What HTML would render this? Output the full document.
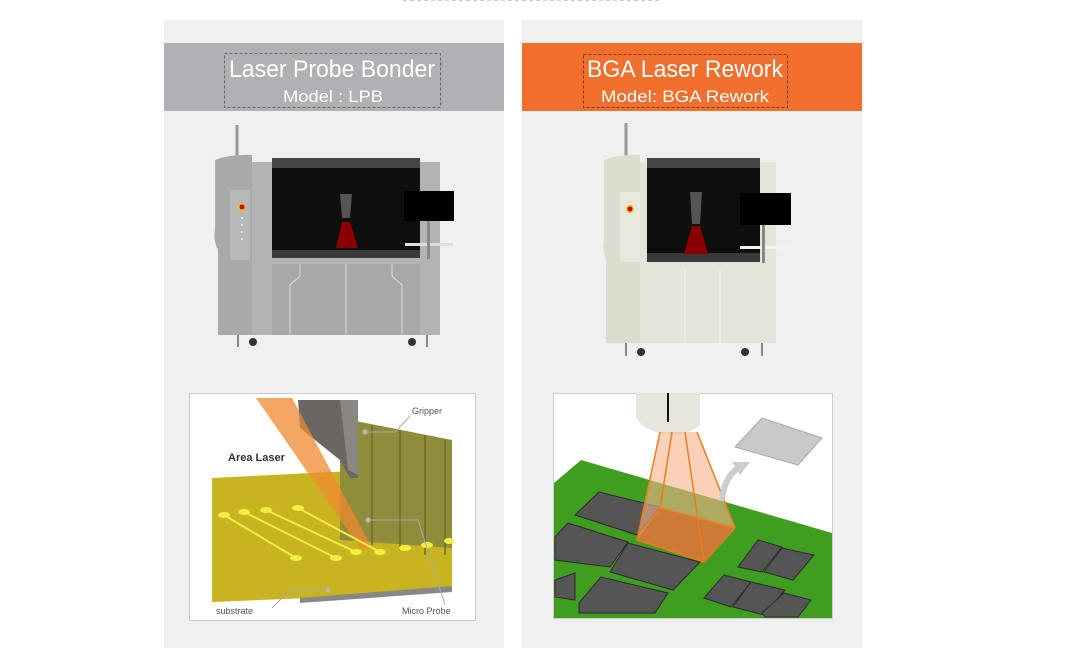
<!DOCTYPE html>
<html><head><meta charset="utf-8"><style>
html,body{margin:0;padding:0;background:#fff;width:1066px;height:661px;overflow:hidden}
svg{display:block}
text{font-family:"Liberation Sans",sans-serif}
</style></head><body>
<svg width="1066" height="661" viewBox="0 0 1066 661" xmlns="http://www.w3.org/2000/svg">
<line x1="403" y1="0.5" x2="660" y2="0.5" stroke="#ccc" stroke-dasharray="4,3"/>
<rect x="164" y="20" width="340" height="628" fill="#f0f0f0"/>
<rect x="522" y="20" width="340" height="628" fill="#f0f0f0"/>
<rect x="164" y="43" width="340" height="68" fill="#b0b1b4"/>
<rect x="522" y="43" width="340" height="68" fill="#f26f2e"/>
<rect x="224.5" y="53.5" width="216" height="54" fill="none" stroke="#666" stroke-dasharray="3,2"/>
<rect x="583.5" y="54.5" width="204" height="53" fill="none" stroke="#7a3a18" stroke-dasharray="3,2"/>
<text x="332" y="77" font-size="24" fill="#fff" text-anchor="middle" textLength="206" lengthAdjust="spacingAndGlyphs">Laser Probe Bonder</text>
<text x="333" y="102" font-size="17" fill="#fff" text-anchor="middle" textLength="100" lengthAdjust="spacingAndGlyphs">Model : LPB</text>
<text x="685" y="77" font-size="24" fill="#fff" text-anchor="middle" textLength="196" lengthAdjust="spacingAndGlyphs">BGA Laser Rework</text>
<text x="685" y="102" font-size="17" fill="#fff" text-anchor="middle" textLength="168" lengthAdjust="spacingAndGlyphs">Model: BGA Rework</text>

<!-- left machine -->
<line x1="237" y1="125" x2="237" y2="157" stroke="#999" stroke-width="3"/>
<rect x="244" y="162" width="196" height="173" fill="#b3b3b3"/>
<path d="M215 160 Q230 154 252 155 L252 335 L218 335 L218 250 Q213 240 215 230Z" fill="#a9a9a9"/>
<rect x="230" y="190" width="20" height="70" fill="#b8b8b8"/>
<circle cx="242" cy="207" r="4" fill="#e6c800"/><circle cx="242" cy="207" r="2.5" fill="#c00"/>
<g fill="#eee"><circle cx="242" cy="218" r="1"/><circle cx="242" cy="225" r="1"/><circle cx="242" cy="232" r="1"/><circle cx="242" cy="239" r="1"/></g>
<rect x="272" y="158" width="148" height="100" fill="#0e0e0e"/>
<rect x="272" y="158" width="148" height="10" fill="#444"/>
<rect x="272" y="250" width="148" height="8" fill="#3a3a3a"/>
<path d="M340 194 L352 194 L350 218 L342 218Z" fill="#555"/>
<path d="M342 222 L350 222 L358 248 L336 248Z" fill="#8a0000"/>
<rect x="272" y="264" width="148" height="71" fill="#a8a8a8"/>
<path d="M300 264 L300 276 L290 285 L290 335 M346 264 L346 335 M392 264 L392 276 L402 285 L402 335" stroke="#ddd" fill="none"/>
<rect x="404" y="191" width="50" height="30" fill="#000"/>
<rect x="405" y="243" width="48" height="3" fill="#ddd"/>
<rect x="427" y="221" width="3" height="38" fill="#888"/>
<g fill="#333"><circle cx="253" cy="342" r="4"/><circle cx="412" cy="342" r="4"/></g>
<g stroke="#888" stroke-width="2"><line x1="238" y1="335" x2="238" y2="347"/><line x1="427" y1="335" x2="427" y2="347"/></g>

<!-- right machine -->
<line x1="626" y1="123" x2="626" y2="157" stroke="#999" stroke-width="3"/>
<rect x="640" y="162" width="136" height="181" fill="#e4e4d8"/>
<path d="M604 160 Q618 154 640 155 L640 343 L606 343 L606 260 Q602 250 604 240Z" fill="#dcdccf"/>
<rect x="620" y="192" width="20" height="70" fill="#e8e8dd"/>
<circle cx="630" cy="209" r="4" fill="#e6c800"/><circle cx="630" cy="209" r="2.5" fill="#c00"/>
<rect x="647" y="158" width="113" height="104" fill="#0e0e0e"/>
<rect x="647" y="158" width="113" height="10" fill="#444"/>
<rect x="647" y="253" width="113" height="9" fill="#3a3a3a"/>
<path d="M690 192 L702 192 L700 224 L692 224Z" fill="#555"/>
<path d="M692 226 L700 226 L708 254 L684 254Z" fill="#8a0000"/>
<path d="M685 270 L685 343 M720 270 L720 343" stroke="#f4f4ec"/>
<rect x="740" y="193" width="51" height="32" fill="#000"/>
<rect x="740" y="246" width="50" height="3" fill="#f4f4ec"/>
<rect x="762" y="225" width="3" height="38" fill="#888"/>
<g fill="#333"><circle cx="641" cy="352" r="4"/><circle cx="745" cy="352" r="4"/></g>
<g stroke="#888" stroke-width="2"><line x1="626" y1="343" x2="626" y2="356"/><line x1="762" y1="343" x2="762" y2="356"/></g>

<!-- left illustration -->
<rect x="189.5" y="393.5" width="286" height="227" fill="#fff" stroke="#ccc"/>
<polygon points="212,478 452,466 452,592 212,602" fill="#c8b420"/>
<polygon points="300,598 452,586 452,592 300,603" fill="#888"/>
<polygon points="340,418 452,440 452,548 340,540" fill="#8f8c3c"/>
<g stroke="#6e6b2a" stroke-width="1.5"><line x1="372" y1="425" x2="372" y2="545"/><line x1="400" y1="430" x2="400" y2="550"/><line x1="425" y1="435" x2="425" y2="555"/><line x1="445" y1="440" x2="445" y2="555"/></g>
<polygon points="298,400 352,400 358,478 350,478 340,460 300,428" fill="#6a6762"/>
<polygon points="340,400 358,400 358,475 348,470" fill="#8a8782"/>
<polygon points="256,398 292,398 372,548 360,548" fill="#f08a30" opacity="0.75"/>
<g fill="#f4ee40"><ellipse cx="224" cy="515" rx="6" ry="3"/><ellipse cx="244" cy="512" rx="6" ry="3"/><ellipse cx="266" cy="510" rx="6" ry="3"/><ellipse cx="298" cy="508" rx="6" ry="3"/><ellipse cx="296" cy="558" rx="6" ry="3"/><ellipse cx="336" cy="558" rx="6" ry="3"/><ellipse cx="356" cy="552" rx="6" ry="3"/><ellipse cx="380" cy="552" rx="6" ry="3"/><ellipse cx="405" cy="548" rx="6" ry="3"/><ellipse cx="427" cy="545" rx="6" ry="3"/><ellipse cx="449" cy="541" rx="5" ry="3"/></g>
<g stroke="#f4ee40" stroke-width="2"><line x1="224" y1="515" x2="296" y2="558"/><line x1="244" y1="512" x2="336" y2="558"/><line x1="266" y1="510" x2="356" y2="552"/><line x1="298" y1="508" x2="380" y2="552"/></g>
<g stroke="#aaa" fill="none"><path d="M365 432 L395 432 L410 416"/><path d="M368 520 L418 520 L445 605"/><path d="M328 590 L290 590 L272 608"/></g>
<g fill="#bbb"><circle cx="365" cy="432" r="2.5"/><circle cx="368" cy="520" r="2.5"/><circle cx="328" cy="590" r="2.5"/></g>
<text x="412" y="414" font-size="9" fill="#555">Gripper</text>
<text x="228" y="461" font-size="11" font-weight="bold" fill="#333">Area Laser</text>
<text x="216" y="614" font-size="9" fill="#555">substrate</text>
<text x="402" y="614" font-size="9" fill="#555">Micro Probe</text>

<!-- right illustration -->
<rect x="553.5" y="393.5" width="279" height="225" fill="#fff" stroke="#ccc"/>
<polygon points="554,483 581,460 832,533 832,618 554,618" fill="#3f9e20"/>
<g fill="#555" stroke="#2a2a2a" stroke-width="1">
<polygon points="575,515 599,492 660,507 637,535"/>
<polygon points="555,537 568,523 628,542 610,567 555,560"/>
<polygon points="610,572 628,543 700,562 673,590"/>
<polygon points="555,580 575,573 575,600 555,597"/>
<polygon points="579,603 601,577 668,593 655,613 579,613"/>
<polygon points="738,567 758,540 782,547 762,572"/>
<polygon points="764,572 782,548 814,555 793,580"/>
<polygon points="704,598 724,575 751,582 731,607"/>
<polygon points="733,607 751,582 785,590 764,615"/>
<polygon points="762,613 784,593 811,600 798,617 765,617"/>
</g>
<path d="M636 393 L700 393 L700 425 Q690 435 668 434 Q645 432 636 418Z" fill="#e6e6dc"/>
<line x1="668" y1="393" x2="668" y2="422" stroke="#111" stroke-width="2"/>
<polygon points="660,432 697,432 735,528 704,562 637,540" fill="#f7b48a" opacity="0.6"/>
<polygon points="660,508 735,528 704,562 637,540" fill="#d86a28" opacity="0.75"/>
<g stroke="#f07a20" stroke-width="1.5" fill="none"><path d="M660,432 L637,540 L704,562 L735,528 L697,432"/><path d="M672,432 L660,508 L735,528 M685,432 L704,562 M637,540 L660,508"/></g>
<polygon points="735,447 762,418 822,438 798,465" fill="#c9c9c9" stroke="#aaa"/>
<path d="M722 500 Q724 478 738 468" stroke="#c9ccd0" stroke-width="6" fill="none"/>
<polygon points="732,462 750,462 740,475" fill="#c9ccd0"/>
</svg>
</body></html>
